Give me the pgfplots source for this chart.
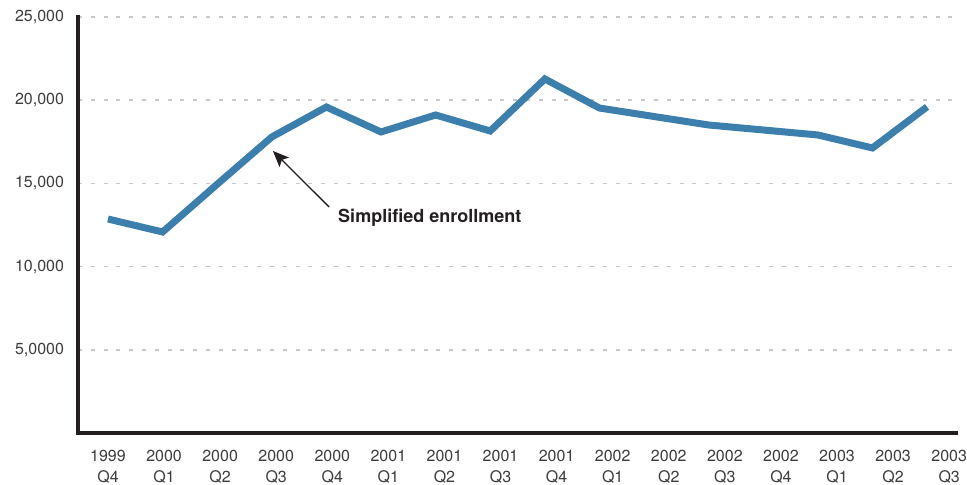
\documentclass[border=0pt]{standalone}
\usepackage{fontspec}
\setmainfont{TeX Gyre Heros}
\usepackage{pgfplots}
\pgfplotsset{compat=1.18}
\usetikzlibrary{arrows.meta}

\definecolor{lineblue}{RGB}{60,127,172}
\definecolor{axisblack}{RGB}{35,31,32}
\definecolor{gridgray}{RGB}{200,200,200}
\definecolor{labelgray}{RGB}{60,60,60}

\begin{document}
\begin{tikzpicture}
\begin{axis}[
    scale only axis,
    width=658.5pt, height=312pt,
    xmin=-0.549, xmax=15.53,
    ymin=0, ymax=25000,
    scaled y ticks=false,
    axis x line=bottom, axis y line=left,
    axis line style={-, line width=3pt, color=axisblack, line cap=rect},
    major tick length=0pt,
    ytick={5000,10000,15000,20000,25000},
    yticklabels={{5,0000},{10,000},{15,000},{20,000},{25,000}},
    xtick={0,1.027,2.054,3.081,4.108,5.135,6.162,7.189,8.216,9.243,10.27,11.297,12.324,13.351,14.378,15.405},
    xticklabels={{1999\\Q4},{2000\\Q1},{2000\\Q2},{2000\\Q3},{2000\\Q4},
                 {2001\\Q1},{2001\\Q2},{2001\\Q3},{2001\\Q4},
                 {2002\\Q1},{2002\\Q2},{2002\\Q3},{2002\\Q4},
                 {2003\\Q1},{2003\\Q2},{2003\\Q3}},
    yticklabel style={font=\fontsize{12}{14.6}\selectfont, text=labelgray, xshift=-7pt},
    xticklabel style={font=\fontsize{12}{15.8}\selectfont, text=labelgray,
                      align=center, yshift=-9pt},
    ymajorgrids,
    grid style={gridgray, line width=1.1pt, dash pattern=on 3pt off 6.6pt},
    clip=false,
]
% quarterly enrollment
\addplot[lineblue, line width=5.25pt, line join=miter, no marks] coordinates {
    (0,12860) (1,12080) (2,14950) (3,17790) (4,19590)
    (5,18090) (6,19110) (7,18150) (8,21275)
    (9,19530) (10,19020) (11,18510) (12,18210)
    (13,17910) (14,17130) (15,19600)
};

% annotation
\draw[axisblack, line width=1pt, -{Stealth[length=12pt,width=10pt,inset=2.5pt]}]
    (axis cs:4.05,13580) -- (axis cs:3.02,16950);
\node[anchor=base west, inner sep=0pt, text=axisblack,
      font=\fontsize{13.5}{16}\selectfont\bfseries]
    at (axis cs:4.212,12640) {Simplified enrollment};
\end{axis}
\pgfresetboundingbox
\path[use as bounding box] ([xshift=-58.5pt,yshift=-39pt]current axis.south west)
    rectangle ([xshift=8.25pt,yshift=12.75pt]current axis.north east);
\end{tikzpicture}
\end{document}
